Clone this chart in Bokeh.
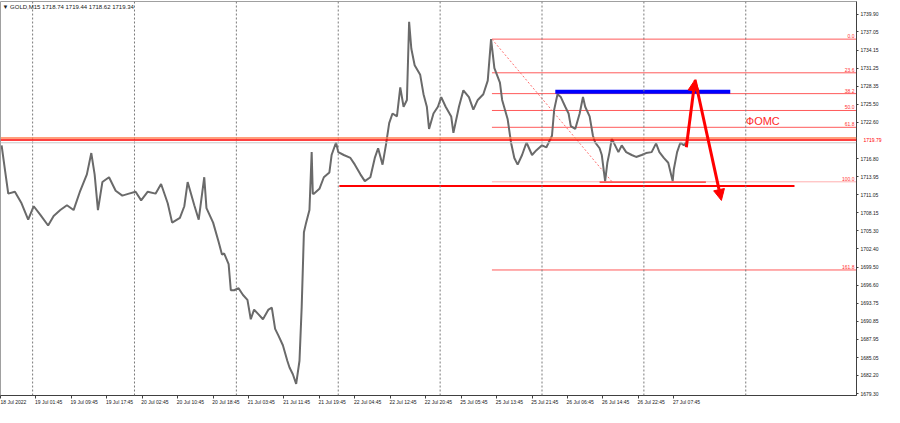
from bokeh.plotting import figure
from bokeh.models import (Range1d, FixedTicker, Span, Label, Arrow, NormalHead,
                          PrintfTickFormatter, LinearAxis)
from bokeh.embed import file_html
from bokeh.resources import INLINE
from bokeh.core.properties import value

# ---- data (x = M15 bar index, y = price) ----
bar = [1, 4, 7, 13, 19, 25, 30, 36, 43, 48, 54, 60, 66, 72, 78, 82, 85, 88, 92, 98,
       104, 110, 116, 122, 127, 133, 140, 145, 151, 155, 162, 166, 169, 175, 179, 184, 186, 192, 197, 200,
       202, 206, 208, 211, 215, 219, 223, 226, 229, 233, 237, 242, 245, 248, 251, 255, 259, 261, 264, 267,
       270, 272, 274, 276, 279, 281, 282, 283, 288, 292, 297, 299, 303, 305, 310, 316, 320, 325, 329, 334,
       338, 341, 345, 348, 351, 354, 358, 361, 364, 367, 369, 371, 374, 379, 382, 385, 387, 391, 395, 398,
       402, 407, 409, 414, 418, 423, 427, 431, 436, 440, 443, 446, 451, 453, 458, 461, 464, 467, 471, 475,
       480, 484, 489, 493, 498, 500, 503, 506, 510, 513, 515, 519, 523, 526, 528, 532, 535, 537, 541, 543,
       546, 548, 550, 552, 555, 558, 561, 565, 570, 574, 579, 583, 588, 592, 595, 599, 603, 607, 608, 611,
       614, 617, 619]
close = [1718.93, 1715.07, 1711.22, 1711.53, 1709.68, 1707.06, 1709.21, 1707.83, 1706.13, 1707.67,
         1708.60, 1709.37, 1708.60, 1711.68, 1714.30, 1717.70, 1714.30, 1708.60, 1713.07, 1713.84,
         1711.68, 1710.91, 1711.22, 1711.53, 1710.14, 1711.53, 1711.22, 1712.76, 1709.68, 1706.59,
         1707.36, 1709.21, 1713.07, 1709.37, 1707.06, 1713.84, 1708.91, 1706.59, 1703.51, 1701.50,
         1701.66, 1699.96, 1695.80, 1695.80, 1696.11, 1695.03, 1694.26, 1691.17, 1692.71, 1691.94,
         1691.17, 1692.71, 1693.02, 1689.63, 1688.55, 1687.01, 1684.54, 1683.46, 1682.38, 1680.84,
         1684.54, 1693.18, 1705.05, 1706.59, 1708.60, 1717.85, 1711.22, 1711.22, 1711.99, 1713.84,
         1714.61, 1717.39, 1719.39, 1717.85, 1717.39, 1716.92, 1715.85, 1714.30, 1713.22, 1713.84,
         1716.92, 1718.47, 1715.85, 1718.93, 1722.48, 1724.02, 1723.55, 1728.18, 1725.10, 1726.18,
         1738.67, 1734.35, 1731.73, 1730.19, 1727.10, 1725.10, 1721.55, 1724.02, 1725.10, 1726.64,
         1725.10, 1723.55, 1720.93, 1725.10, 1727.72, 1726.64, 1724.63, 1726.18, 1727.10, 1729.26,
         1735.89, 1731.26, 1728.95, 1726.18, 1723.09, 1719.39, 1716.92, 1715.85, 1717.39, 1719.39,
         1717.39, 1718.16, 1718.93, 1718.62, 1720.47, 1724.63, 1727.10, 1726.64, 1725.10, 1724.02,
         1722.01, 1721.55, 1724.02, 1726.64, 1725.10, 1723.55, 1720.47, 1719.39, 1718.47, 1717.39,
         1713.22, 1716.15, 1717.85, 1720.01, 1718.93, 1717.85, 1718.93, 1717.85, 1717.39, 1717.08,
         1717.39, 1717.70, 1717.85, 1719.24, 1717.85, 1716.92, 1716.15, 1713.22, 1715.07, 1717.85,
         1719.39, 1718.93, 1719.39]

x_tick_bars = [0, 32, 64, 96, 128, 160, 192, 224, 256, 288, 320, 352, 384, 416, 448, 480, 512, 544, 576, 608]
x_tick_labels = ["18 Jul 2022", "19 Jul 01:45", "19 Jul 09:45", "19 Jul 17:45", "20 Jul 02:45",
                 "20 Jul 10:45", "20 Jul 18:45", "21 Jul 03:45", "21 Jul 11:45", "21 Jul 19:45",
                 "22 Jul 04:45", "22 Jul 12:45", "22 Jul 20:45", "25 Jul 05:45", "25 Jul 13:45",
                 "25 Jul 21:45", "26 Jul 06:45", "26 Jul 14:45", "26 Jul 22:45", "27 Jul 07:45"]
y_ticks = [1739.90, 1737.05, 1734.15, 1731.25, 1728.35, 1725.50, 1722.60, 1716.80, 1713.95,
           1711.05, 1708.15, 1705.30, 1702.40, 1699.50, 1696.60, 1693.75, 1690.85, 1687.95,
           1685.05, 1682.20, 1679.30]
day_start_bars = [29, 121, 213, 305, 397, 489, 581, 673]

symbol = "GOLD,M15"
ohlc = ["1718.74", "1719.44", "1718.62", "1719.34"]

fib_start_bar, fib_end_bar = 443.8, 552.3
fib_p0, fib_p100 = 1735.89, 1713.11
fib_levels = [0.0, 23.6, 38.2, 50.0, 61.8, 100.0, 161.8]
fib_labels = ["0.0", "23.6", "38.2", "50.0", "61.8", "100.0", "161.8"]

support_price, support_from, support_to = 1712.45, 306, 717
low_price, low_from, low_to = 1713.07, 541, 637
resist_price, resist_from, resist_to = 1727.50, 501, 659
line_orange, line_red, bid_price = 1720.10, 1719.79, 1719.34

arrow_start = (619.3, 1718.62)
arrow_top = (627.2, 1729.41)
arrow_bottom = (651.0, 1710.14)
note_text, note_bar, note_price = "ФОМС", 673, 1722.78

X0, X1 = 0, 773
Y0, Y1 = 1678.99, 1741.90
FONT = "Liberation Sans"
LABEL_SHIFT = 11.5   # x labels are drawn to the right of their tick (left-aligned look)

p = figure(width=884, height=407, x_range=Range1d(X0, X1), y_range=Range1d(Y0, Y1),
           output_backend="svg", toolbar_location=None, y_axis_location=None,
           x_axis_location=None,
           min_border_left=0, min_border_right=24, min_border_top=1, min_border_bottom=4)
p.xgrid.visible = False
p.ygrid.visible = False
p.background_fill_color = "white"
p.border_fill_color = "white"
p.outline_line_color = "#a0a0a0"

# bottom axis: tick marks at the ticks, labels on a second axis starting at the ticks
ax_ticks = LinearAxis(ticker=FixedTicker(ticks=x_tick_bars), axis_line_color="#404040",
                      major_tick_line_color="#404040", major_tick_in=0, major_tick_out=3,
                      minor_tick_line_color=None, major_label_text_font_size="1px",
                      major_label_text_color=None, major_label_standoff=0)
p.add_layout(ax_ticks, "below")
lab_pos = [b + LABEL_SHIFT for b in x_tick_bars]
ax_labels = LinearAxis(ticker=FixedTicker(ticks=lab_pos), axis_line_color=None,
                       major_tick_line_color=None, minor_tick_line_color=None,
                       major_tick_in=0, major_tick_out=0, major_label_standoff=0,
                       major_label_text_font=FONT, major_label_text_font_size="5px",
                       major_label_text_color="#202020",
                       major_label_overrides={pos: t for pos, t in zip(lab_pos, x_tick_labels)})
p.add_layout(ax_labels, "below")

# right price axis
yax = LinearAxis(ticker=FixedTicker(ticks=y_ticks), formatter=PrintfTickFormatter(format="%.2f"),
                 axis_line_color="#404040", major_tick_line_color="#404040",
                 major_tick_in=0, major_tick_out=2, minor_tick_line_color=None,
                 major_label_text_font=FONT, major_label_text_font_size="5px",
                 major_label_text_color="#202020", major_label_standoff=2)
p.add_layout(yax, "right")

# current-price box, drawn by a second right axis folded back onto the label column
box_ax = LinearAxis(ticker=FixedTicker(ticks=[line_red]), formatter=PrintfTickFormatter(format="%.2f"),
                    axis_line_color=None, major_tick_line_color=None, minor_tick_line_color=None,
                    major_tick_in=0, major_tick_out=0, major_label_standoff=-18,
                    major_label_text_font=FONT, major_label_text_font_size="5px")
if "major_label_background_fill_color" in box_ax.properties():
    box_ax.major_label_background_fill_color = "#ff0000"
    box_ax.major_label_text_color = "white"
else:
    box_ax.major_label_text_color = "#ff0000"
p.add_layout(box_ax, "right")

# daily grid
for b in day_start_bars:
    p.add_layout(Span(location=b, dimension="height", line_color="#7a7a7a",
                      line_dash="2 2", line_width=1))

# horizontal price lines
p.add_layout(Span(location=bid_price, dimension="width", line_color="#c8c8c8", line_width=1))
p.add_layout(Span(location=line_orange, dimension="width", line_color="#ff7f50", line_width=1.5))
p.add_layout(Span(location=line_red, dimension="width", line_color="#ff0000", line_width=1.5))

# fibonacci
fib_prices = [fib_p0 - lv / 100.0 * (fib_p0 - fib_p100) for lv in fib_levels]
fib_colors = ["#ff5a5a" if lv != 100.0 else "#ffb0b0" for lv in fib_levels]
p.segment(x0=[fib_start_bar] * len(fib_prices), x1=[X1] * len(fib_prices),
          y0=fib_prices, y1=fib_prices, line_color=fib_colors, line_width=1)
p.text(x=[X1] * len(fib_prices), y=fib_prices, text=fib_labels, text_align="right",
       text_baseline="bottom", text_font=value(FONT), text_font_size="5px",
       text_color="#ff3030", x_offset=-2, y_offset=-1)
p.line([fib_start_bar, fib_end_bar], [fib_p0, fib_p100], line_color="#ff7070",
       line_dash="2 2", line_width=1)

# price chart
p.line(bar, close, line_color="#6a6a6a", line_width=2)

# drawn levels
p.segment(x0=[support_from], x1=[support_to], y0=[support_price], y1=[support_price],
          line_color="#ff0000", line_width=2)
p.segment(x0=[low_from], x1=[low_to], y0=[low_price], y1=[low_price],
          line_color="#ff2020", line_width=1.2)
p.segment(x0=[resist_from], x1=[resist_to], y0=[resist_price], y1=[resist_price],
          line_color="#0000ff", line_width=4)

# scenario arrows
p.add_layout(Arrow(end=NormalHead(size=11, fill_color="#ff0000", line_color="#ff0000"),
                   x_start=arrow_start[0], y_start=arrow_start[1],
                   x_end=arrow_top[0], y_end=arrow_top[1], line_color="#ff0000", line_width=3))
p.add_layout(Arrow(end=NormalHead(size=11, fill_color="#ff0000", line_color="#ff0000"),
                   x_start=arrow_top[0], y_start=arrow_top[1],
                   x_end=arrow_bottom[0], y_end=arrow_bottom[1], line_color="#ff0000", line_width=3))
p.text(x=[note_bar], y=[note_price], text=[note_text], text_font=value(FONT),
       text_font_size="11px", text_color="#ff2a2a", text_baseline="middle", text_align="left")

# header
p.add_layout(Label(x=X0, y=Y1, x_offset=2, y_offset=-2, text="▼ " + symbol + " " + " ".join(ohlc),
                   text_baseline="top", text_font=FONT, text_font_size="6px", text_color="#202020"))

open("out.html", "w").write(file_html(p, INLINE))
